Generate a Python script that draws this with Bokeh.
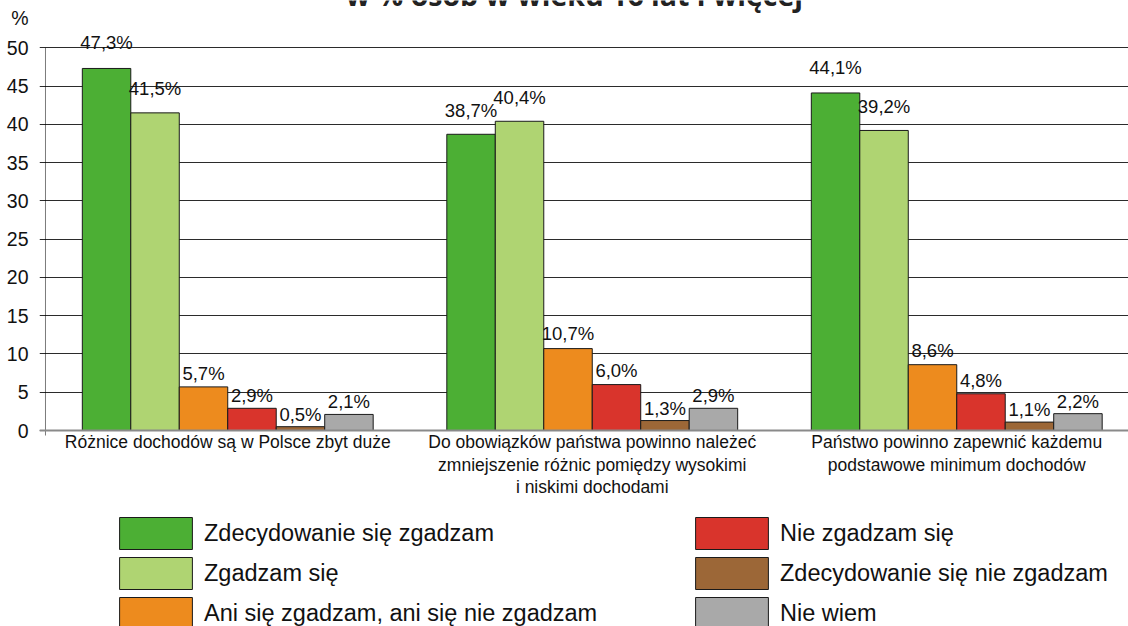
from bokeh.plotting import figure
from bokeh.models import (Range1d, FixedTicker, Span, Label, Legend, LegendItem,
                          ColumnDataSource, BoxAnnotation)
from bokeh.core.properties import value
from bokeh.transform import dodge
from bokeh.embed import file_html
from bokeh.resources import INLINE

# ---- data ----
title_text = "w % osób w wieku 16 lat i więcej"
y_unit = "%"
categories = [
    "Różnice dochodów są w Polsce zbyt duże",
    "Do obowiązków państwa powinno należeć\nzmniejszenie różnic pomiędzy wysokimi\ni niskimi dochodami",
    "Państwo powinno zapewnić każdemu\npodstawowe minimum dochodów",
]
answers = [
    "Zdecydowanie się zgadzam",
    "Zgadzam się",
    "Ani się zgadzam, ani się nie zgadzam",
    "Nie zgadzam się",
    "Zdecydowanie się nie zgadzam",
    "Nie wiem",
]
zdecydowanie_tak = [47.3, 38.7, 44.1]
zgadzam = [41.5, 40.4, 39.2]
ani_ani = [5.7, 10.7, 8.6]
nie_zgadzam = [2.9, 6.0, 4.8]
zdecydowanie_nie = [0.5, 1.3, 1.1]
nie_wiem = [2.1, 2.9, 2.2]
series = [zdecydowanie_tak, zgadzam, ani_ani, nie_zgadzam, zdecydowanie_nie, nie_wiem]
y_ticks = list(range(0, 51, 5))

colors = ["#4caf34", "#afd472", "#ed8b1e", "#d9342c", "#9c6737", "#a9a9a9"]
FONT = "Liberation Sans"

group_x = [i + 0.5 for i in range(len(categories))]
bar_w = 0.133

data = dict(x=group_x)
for k, vals in enumerate(series):
    data[f"v{k}"] = vals
    data[f"t{k}"] = [f"{v:.1f}".replace(".", ",") + "%" for v in vals]
    data[f"ly{k}"] = [v * 1.04 + 1.55 for v in vals]
src = ColumnDataSource(data)

Y_BOTTOM = -0.65   # where the vertical axis line ends below zero
UNIT_POS = 53.83   # vertical position of the "%" unit label

p = figure(width=1128, height=626, output_backend="svg", toolbar_location=None,
           title=None,
           x_range=Range1d(-0.01646, 2.97119), y_range=Range1d(-25.607, 56.18),
           min_border_left=39, min_border_right=0, min_border_top=0,
           min_border_bottom=0)
p.outline_line_color = None
p.background_fill_color = "white"

# y axis (labels only; gridlines form the tick marks)
p.yaxis.ticker = FixedTicker(ticks=y_ticks + [UNIT_POS])
p.yaxis.major_label_overrides = {UNIT_POS: y_unit}
p.yaxis.minor_tick_line_color = None
p.yaxis.major_tick_line_color = None
p.yaxis.major_tick_out = 0
p.yaxis.major_tick_in = 0
p.yaxis.axis_line_color = None
p.yaxis.major_label_text_font = FONT
p.yaxis.major_label_text_font_size = "19.5px"
p.yaxis.major_label_text_color = "#111111"
p.yaxis.major_label_standoff = 11
p.ygrid.ticker = FixedTicker(ticks=y_ticks)
p.ygrid.grid_line_color = "#2b2b2b"
p.ygrid.grid_line_width = 1

# vertical axis line
p.add_layout(BoxAnnotation(left=0, right=0, bottom=Y_BOTTOM, top=50,
                           fill_alpha=0, line_color="#000000", line_width=1))

# x axis with category labels
p.xgrid.visible = False
p.xaxis.fixed_location = Y_BOTTOM
p.xaxis.ticker = FixedTicker(ticks=group_x)
p.xaxis.major_label_overrides = {gx: c for gx, c in zip(group_x, categories)}
p.xaxis.axis_line_color = None
p.xaxis.major_tick_line_color = None
p.xaxis.minor_tick_line_color = None
p.xaxis.major_tick_out = 0
p.xaxis.major_tick_in = 0
p.xaxis.major_label_text_font = FONT
p.xaxis.major_label_text_font_size = "17.5px"
p.xaxis.major_label_text_color = "#111111"
p.xaxis.major_label_text_line_height = 1.12
p.xaxis.major_label_standoff = -3

offsets = [(k - 2.5) * bar_w for k in range(6)]
renderers = []
for k in range(6):
    r = p.vbar(x=dodge("x", offsets[k]), top=f"v{k}", width=bar_w, bottom=0,
               source=src, fill_color=colors[k], line_color="#1a1a1a", line_width=1)
    renderers.append(r)
    p.text(x=dodge("x", offsets[k]), y=f"ly{k}", text=f"t{k}", source=src,
           text_align="center", text_baseline="middle", text_font=value(FONT),
           text_font_size="18.5px", text_color="#111111")

p.add_layout(Span(location=0, dimension="width", line_color="#8a8a8a", line_width=2))

p.add_layout(Label(x=1.451, y=56.84, text=title_text, text_align="center",
                   text_baseline="alphabetic", text_font="Open Sans",
                   text_font_style="bold", text_font_size="28.5px", text_color="#222222"))

def make_legend(idx, loc):
    return Legend(items=[LegendItem(label=answers[i], renderers=[renderers[i]]) for i in idx],
                  location=loc, orientation="vertical", glyph_width=91, glyph_height=40,
                  spacing=0, padding=0, margin=0, label_standoff=3,
                  label_text_font=FONT, label_text_font_size="23.5px",
                  label_text_color="#111111", border_line_color=None,
                  background_fill_alpha=0, label_height=40)

p.add_layout(make_legend([0, 1, 2], (71, -7)))
p.add_layout(make_legend([3, 4, 5], (647, -7)))

open("out.html", "w").write(file_html(p, INLINE))
